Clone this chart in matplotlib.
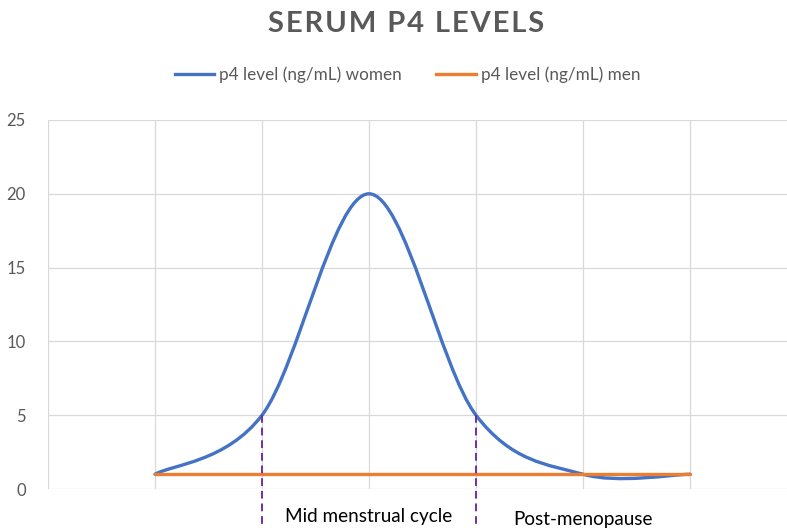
import matplotlib.pyplot as plt
import numpy as np
from matplotlib.path import Path
from matplotlib.patches import PathPatch
from matplotlib.lines import Line2D

# datos
x_vals = [1, 2, 3, 4, 5, 6]
women = [1, 5, 20, 5, 1, 1]
men = [1, 1, 1, 1, 1, 1]
marcas_x = [2, 4]
marca_y = 5
etiquetas = ["Mid menstrual cycle", "Post-menopause"]
etiquetas_x = [3, 5]

azul = "#4472C4"
naranja = "#ED7D31"
morado = "#7030A0"
gris = "#595959"

plt.rcParams['font.family'] = ['Lato', 'DejaVu Sans']


def curva_suave(xs, ys):
    """Path bezier tipo Excel (catmull-rom) a partir de los puntos"""
    p = np.column_stack([xs, ys]).astype(float)
    n = len(p)
    verts = [p[0]]
    codes = [Path.MOVETO]
    for i in range(n - 1):
        p0 = p[i - 1] if i > 0 else p[i]
        p3 = p[i + 2] if i + 2 < n else p[i + 1]
        c1 = p[i] + (p[i + 1] - p0) / 6
        c2 = p[i + 1] - (p3 - p[i]) / 6
        verts += [c1, c2, p[i + 1]]
        codes += [Path.CURVE4] * 3
    return Path(verts, codes)


fig = plt.figure(figsize=(7.87, 5.28), dpi=100)
ax = fig.add_axes([48 / 787, 1 - 489 / 528, 1 - 48 / 787, (489 - 120) / 528])
ax.set_xlim(0, (787 - 48) / 107)
ax.set_ylim(0, 25)
ax.set_yticks(range(0, 26, 5))
ax.set_xticks(range(0, 7))
ax.set_xticklabels([])
ax.grid(True, color="#D9D9D9", lw=0.9)
ax.set_axisbelow(True)
for s in ax.spines.values():
    s.set_visible(False)
ax.tick_params(length=0, labelsize=12, labelcolor=gris, pad=16)

ax.add_patch(PathPatch(curva_suave(x_vals, women), fc="none", ec=azul, lw=2.4,
                       capstyle="round", zorder=3))
ax.plot(x_vals, men, color=naranja, lw=2.4, solid_capstyle="round", zorder=4)

for xm in marcas_x:
    ax.plot([xm, xm], [marca_y, -3], color=morado, lw=1.4, ls=(0, (4, 2.5)),
            clip_on=False, zorder=5)

ax.text(etiquetas_x[0], -1.83, etiquetas[0], ha="center", va="center",
        fontsize=13.6, color="black", clip_on=False)
ax.text(etiquetas_x[1], -2.05, etiquetas[1], ha="center", va="center",
        fontsize=13.6, color="black", clip_on=False)

titulo = "\u200a".join("SERUM P4 LEVELS")
fig.text(0.516, 1 - 24 / 528, titulo, ha="center", va="center",
         fontsize=21, fontweight="bold", color=gris)

handles = [Line2D([], [], color=azul, lw=2.4), Line2D([], [], color=naranja, lw=2.4)]
fig.legend(handles, ["p4 level (ng/mL) women", "p4 level (ng/mL) men"],
           loc="center", bbox_to_anchor=(0.518, 1 - 75 / 528), ncol=2, frameon=False,
           fontsize=12.3, labelcolor=gris, handlelength=2.3, handletextpad=0.3,
           columnspacing=2.0)

fig.savefig("out.png", dpi=100)
